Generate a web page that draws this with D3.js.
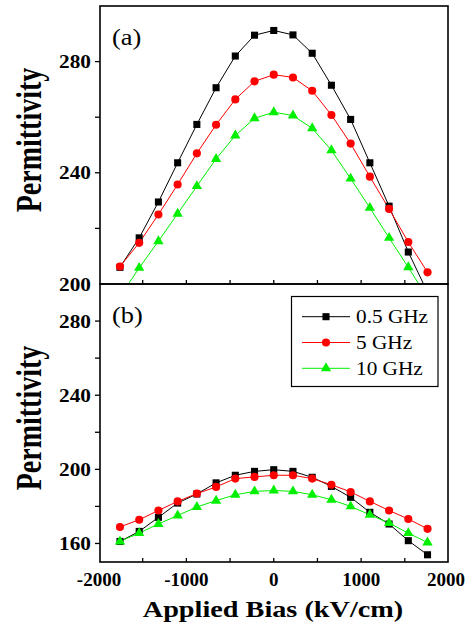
<!DOCTYPE html>
<html>
<head>
<meta charset="utf-8">
<script src="https://cdn.jsdelivr.net/npm/d3@7/dist/d3.min.js"></script>
<style>
  html, body { margin: 0; padding: 0; background: #fff; }
  svg { display: block; }
  text { font-family: "Liberation Serif", "Times New Roman", serif; fill: #000; }
</style>
</head>
<body>
<svg id="chart" width="468" height="633"></svg>
<script>
// ---------- data ----------
const bias = [-1760, -1540, -1320, -1100, -880, -660, -440, -220, 0, 220, 440, 660, 880, 1100, 1320, 1540, 1760];
const seriesNames = ["0.5 GHz", "5 GHz", "10 GHz"];
const seriesColors = ["#000000", "#ff0000", "#00f000"];
const seriesSymbols = ["square", "circle", "triangle"];

// panel (a)
const aBlack = [206.0, 216.6, 229.5, 243.6, 257.4, 270.6, 282.0, 289.5, 291.2, 289.6, 283.0, 271.5, 259.2, 243.6, 228.0, 211.5, 197.0];
const aRed   = [206.3, 214.8, 225.0, 235.8, 247.0, 257.3, 266.4, 272.9, 275.3, 274.3, 269.5, 260.8, 250.5, 238.6, 227.0, 215.1, 204.2];
const aGreen = [195.5, 205.8, 215.4, 225.3, 235.2, 245.0, 253.4, 259.6, 261.8, 260.6, 256.0, 248.1, 237.9, 227.4, 216.6, 206.0, 195.0];

// panel (b)
const bBlack = [161.1, 166.5, 174.1, 181.8, 186.7, 192.7, 196.8, 198.9, 199.8, 198.9, 195.7, 190.8, 184.9, 176.8, 170.5, 161.5, 153.9];
const bRed   = [168.9, 172.8, 177.8, 182.7, 186.9, 190.5, 195.0, 195.9, 196.8, 196.8, 195.0, 191.7, 187.8, 182.7, 177.8, 173.2, 167.9];
const bGreen = [161.1, 165.6, 170.5, 175.1, 179.7, 183.1, 186.3, 188.1, 188.6, 188.1, 186.3, 183.6, 180.0, 175.5, 171.0, 165.6, 160.5];

const xTicks = [-1500, -1000, -500, 0, 500, 1000, 1500];
const xTickLabels = [-2000, -1000, 0, 1000, 2000];
const aYTicks = [220, 240, 260, 280];
const aYLabels = [200, 240, 280];
const bYTicks = [160, 180, 200, 220, 240, 260, 280];
const bYLabels = [160, 200, 240, 280];

const panelLabels = ["(a)", "(b)"];
const yTitle = "Permittivity";
const xTitle = "Applied Bias (kV/cm)";

// ---------- layout ----------
const svg = d3.select("#chart");
const L = 100, R = 448;
const x = d3.scaleLinear().domain([-2000, 2000]).range([L - 1, R + 0.5]);

const panels = [
  { top: 6, bottom: 284, domain: [200, 300], series: [aBlack, aRed, aGreen], ticks: aYTicks, labels: aYLabels, name: panelLabels[0], id: "a" },
  { top: 284, bottom: 562, domain: [150, 300], series: [bBlack, bRed, bGreen], ticks: bYTicks, labels: bYLabels, name: panelLabels[1], id: "b" }
];

const symType = { square: d3.symbolSquare, circle: d3.symbolCircle, triangle: d3.symbolTriangle };
const symSize = { square: 50, circle: 52, triangle: 46 };

panels.forEach((p, pi) => {
  const y = d3.scaleLinear().domain(p.domain).range([p.bottom, p.top]);
  const g = svg.append("g");

  svg.append("defs").append("clipPath").attr("id", "clip" + p.id)
    .append("rect").attr("x", L).attr("y", p.top).attr("width", R - L).attr("height", p.bottom - p.top);

  const plot = g.append("g").attr("clip-path", `url(#clip${p.id})`);
  const line = d3.line().x((d, i) => x(bias[i])).y(d => y(d));

  p.series.forEach((s, si) => {
    plot.append("path").datum(s)
      .attr("d", line)
      .attr("fill", "none")
      .attr("stroke", seriesColors[si])
      .attr("stroke-width", 1);
  });
  p.series.forEach((s, si) => {
    const sym = d3.symbol().type(symType[seriesSymbols[si]]).size(symSize[seriesSymbols[si]]);
    plot.selectAll(null).data(s).enter().append("path")
      .attr("d", sym)
      .attr("transform", (d, i) => `translate(${x(bias[i])},${y(d)})`)
      .attr("fill", seriesColors[si]);
  });

  // y axis ticks (outward)
  g.selectAll(null).data(p.ticks).enter().append("line")
    .attr("x1", L - 5).attr("x2", L)
    .attr("y1", d => y(d)).attr("y2", d => y(d))
    .attr("stroke", "#000").attr("stroke-width", 1.3);
  g.selectAll(null).data(p.labels).enter().append("text")
    .attr("transform", d => `translate(91,${y(d) + 6.5}) scale(1.12,1)`)
    .attr("text-anchor", "end")
    .attr("font-size", 19)
    .attr("font-weight", "bold")
    .text(d => d);

  // x axis ticks (inward)
  g.selectAll(null).data(xTicks).enter().append("line")
    .attr("x1", d => x(d)).attr("x2", d => x(d))
    .attr("y1", p.bottom - 4).attr("y2", p.bottom)
    .attr("stroke", "#000").attr("stroke-width", 1.3);

  // frame
  g.append("rect")
    .attr("x", L).attr("y", p.top).attr("width", R - L).attr("height", p.bottom - p.top)
    .attr("fill", "none").attr("stroke", "#000").attr("stroke-width", 1.6);

  // panel label
  g.append("text")
    .attr("transform", `translate(112,${p.top + 39}) scale(1.1,1)`)
    .attr("font-size", 24)
    .text(p.name);

  // y title
  svg.append("text")
    .attr("transform", `translate(41,${pi === 0 ? 140 : 418}) scale(1.25,1) rotate(-90)`)
    .attr("text-anchor", "middle")
    .attr("font-size", 28)
    .attr("font-weight", "bold")
    .text(yTitle);

  if (pi === 1) {
    svg.selectAll(null).data(xTickLabels).enter().append("text")
      .attr("transform", d => `translate(${Math.min(x(d), 446)},586)`)
      .attr("text-anchor", "middle")
      .attr("font-size", 19)
      .attr("font-weight", "bold")
      .text(d => d);

    // legend
    const lg = svg.append("g");
    lg.append("rect").attr("x", 291.5).attr("y", 296.5).attr("width", 146.5).attr("height", 90)
      .attr("fill", "#fff").attr("stroke", "#000").attr("stroke-width", 1.2);
    seriesNames.forEach((n, si) => {
      const yy = 316.7 + si * 25.8;
      lg.append("line").attr("x1", 302).attr("x2", 350).attr("y1", yy).attr("y2", yy)
        .attr("stroke", seriesColors[si]).attr("stroke-width", 1);
      lg.append("path")
        .attr("d", d3.symbol().type(symType[seriesSymbols[si]]).size(symSize[seriesSymbols[si]])())
        .attr("transform", `translate(326,${yy})`)
        .attr("fill", seriesColors[si]);
      lg.append("text")
        .attr("transform", `translate(356,${yy + 6.5}) scale(1.12,1)`)
        .attr("font-size", 19)
        .text(n);
    });
  }
});

svg.append("text")
  .attr("transform", "translate(273,617) scale(1.25,1)")
  .attr("text-anchor", "middle")
  .attr("font-size", 22.6)
  .attr("font-weight", "bold")
  .text(xTitle);
</script>
</body>
</html>
